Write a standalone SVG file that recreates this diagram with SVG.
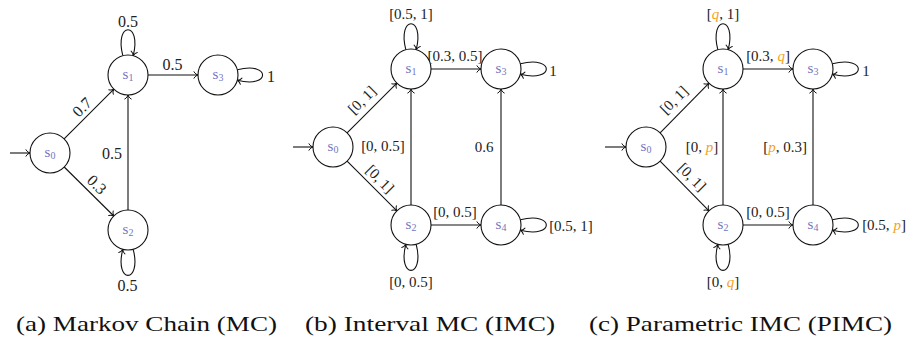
<svg xmlns="http://www.w3.org/2000/svg" width="907" height="341" viewBox="0 0 907 341">
<style>
.node circle{fill:#fff;stroke:#111;stroke-width:1.1}
.nl{font-family:"Liberation Serif",serif;font-size:15px;fill:#7575c2;text-anchor:middle}
.nl tspan{font-size:10px}
.e{fill:none;stroke:#111;stroke-width:1.1;marker-end:url(#arr)}
.lb{font-family:"Liberation Serif",serif;font-size:15px;fill:#222;text-anchor:middle;dominant-baseline:central}
.la{font-size:16px}
.v{fill:#f5a21d;font-style:italic}
.cap{font-family:"Liberation Serif",serif;font-size:21px;fill:#111}
</style>
<defs>
<marker id="arr" markerUnits="userSpaceOnUse" viewBox="-5 -4 6 8" refX="0" refY="0" markerWidth="6" markerHeight="8" orient="auto" overflow="visible">
<path d="M-4,-3.2 C-3,-1.2 -1,-0.3 0,0 C-1,0.3 -3,1.2 -4,3.2" fill="none" stroke="#111" stroke-width="1" stroke-linecap="round"/>
</marker>
</defs>

<g id="connectors">
<!-- panel a -->
<line class="e" x1="10" y1="153" x2="30" y2="153"/>
<line class="e" x1="64.1" y1="138.9" x2="113.9" y2="89.1"/>
<line class="e" x1="64.2" y1="167" x2="113.8" y2="216"/>
<line class="e" x1="128" y1="210" x2="128" y2="95"/>
<line class="e" x1="148" y1="75" x2="198" y2="75"/>
<path class="e" d="M122.8,55.7 C114,21 142,21 133.2,55.7"/>
<path class="e" d="M237.3,69.8 C271,61 271,89 237.3,80.2"/>
<path class="e" d="M133.2,249.3 C142,284 114,284 122.8,249.3"/>
<!-- panel b -->
<line class="e" x1="293" y1="147" x2="313" y2="147"/>
<line class="e" x1="347.1" y1="132.9" x2="396.9" y2="83.1"/>
<line class="e" x1="347.1" y1="161.1" x2="396.9" y2="210.9"/>
<line class="e" x1="411" y1="205" x2="411" y2="89"/>
<line class="e" x1="501" y1="205" x2="501" y2="89"/>
<line class="e" x1="431" y1="69" x2="481" y2="69"/>
<line class="e" x1="431" y1="225" x2="481" y2="225"/>
<path class="e" d="M405.8,49.7 C397,15 425,15 416.2,49.7"/>
<path class="e" d="M520.3,63.8 C555,55 555,83 520.3,74.2"/>
<path class="e" d="M520.3,219.8 C555,211 555,239 520.3,230.2"/>
<path class="e" d="M416.2,244.3 C425,279 397,279 405.8,244.3"/>
<!-- panel c -->
<line class="e" x1="605" y1="147" x2="626" y2="147"/>
<line class="e" x1="660.1" y1="132.8" x2="709" y2="83.2"/>
<line class="e" x1="660.1" y1="161.2" x2="709" y2="210.8"/>
<line class="e" x1="723" y1="205" x2="723" y2="89"/>
<line class="e" x1="813" y1="205" x2="813" y2="89"/>
<line class="e" x1="743" y1="69" x2="793" y2="69"/>
<line class="e" x1="743" y1="225" x2="793" y2="225"/>
<path class="e" d="M717.8,49.7 C709,15 737,15 728.2,49.7"/>
<path class="e" d="M832.3,63.8 C867,55 867,83 832.3,74.2"/>
<path class="e" d="M832.3,219.8 C867,211 867,239 832.3,230.2"/>
<path class="e" d="M728.2,244.3 C737,279 709,279 717.8,244.3"/>
</g>

<g id="edge-labels">
<!-- a -->
<text class="lb la" x="128" y="21">0.5</text>
<text class="lb la" x="172.5" y="64">0.5</text>
<text class="lb la" x="271" y="76">1</text>
<text class="lb la" x="82" y="107" transform="rotate(-45 82 107)">0.7</text>
<text class="lb la" x="97" y="184.5" transform="rotate(45 97 184.5)">0.3</text>
<text class="lb la" x="112" y="153">0.5</text>
<text class="lb la" x="127.5" y="285.5">0.5</text>
<!-- b -->
<text class="lb" x="411" y="13.5">[0.5, 1]</text>
<text class="lb" x="455" y="56">[0.3, 0.5]</text>
<text class="lb" x="553" y="70.5">1</text>
<text class="lb" x="362" y="100" transform="rotate(-45 362 100)">[0, 1]</text>
<text class="lb" x="383" y="146">[0, 0.5]</text>
<text class="lb" x="484" y="147">0.6</text>
<text class="lb" x="380" y="179" transform="rotate(45 380 179)">[0, 1]</text>
<text class="lb" x="455" y="212">[0, 0.5]</text>
<text class="lb" x="571" y="226">[0.5, 1]</text>
<text class="lb" x="411" y="282">[0, 0.5]</text>
<!-- c -->
<text class="lb" x="723" y="13.5">[<tspan class="v">q</tspan>, 1]</text>
<text class="lb" x="768" y="56">[0.3, <tspan class="v">q</tspan>]</text>
<text class="lb" x="866" y="70.5">1</text>
<text class="lb" x="674" y="100" transform="rotate(-45 674 100)">[0, 1]</text>
<text class="lb" x="702" y="147">[0, <tspan class="v">p</tspan>]</text>
<text class="lb" x="785" y="147">[<tspan class="v">p</tspan>, 0.3]</text>
<text class="lb" x="692" y="177" transform="rotate(45 692 177)">[0, 1]</text>
<text class="lb" x="768" y="212">[0, 0.5]</text>
<text class="lb" x="884" y="225">[0.5, <tspan class="v">p</tspan>]</text>
<text class="lb" x="723" y="282">[0, <tspan class="v">q</tspan>]</text>
</g>

<!-- panel a nodes -->
<g id="a_s0" class="node"><circle cx="50" cy="153" r="20"/><text class="nl" x="50" y="156.5">s<tspan dy="2">0</tspan></text></g>
<g id="a_s1" class="node"><circle cx="128" cy="75" r="20"/><text class="nl" x="128" y="78.5">s<tspan dy="2">1</tspan></text></g>
<g id="a_s2" class="node"><circle cx="128" cy="230" r="20"/><text class="nl" x="128" y="233.5">s<tspan dy="2">2</tspan></text></g>
<g id="a_s3" class="node"><circle cx="218" cy="75" r="20"/><text class="nl" x="218" y="78.5">s<tspan dy="2">3</tspan></text></g>
<!-- panel b nodes -->
<g id="b_s0" class="node"><circle cx="333" cy="147" r="20"/><text class="nl" x="333" y="150.5">s<tspan dy="2">0</tspan></text></g>
<g id="b_s1" class="node"><circle cx="411" cy="69" r="20"/><text class="nl" x="411" y="72.5">s<tspan dy="2">1</tspan></text></g>
<g id="b_s2" class="node"><circle cx="411" cy="225" r="20"/><text class="nl" x="411" y="228.5">s<tspan dy="2">2</tspan></text></g>
<g id="b_s3" class="node"><circle cx="501" cy="69" r="20"/><text class="nl" x="501" y="72.5">s<tspan dy="2">3</tspan></text></g>
<g id="b_s4" class="node"><circle cx="501" cy="225" r="20"/><text class="nl" x="501" y="228.5">s<tspan dy="2">4</tspan></text></g>
<!-- panel c nodes -->
<g id="c_s0" class="node"><circle cx="646" cy="147" r="20"/><text class="nl" x="646" y="150.5">s<tspan dy="2">0</tspan></text></g>
<g id="c_s1" class="node"><circle cx="723" cy="69" r="20"/><text class="nl" x="723" y="72.5">s<tspan dy="2">1</tspan></text></g>
<g id="c_s2" class="node"><circle cx="723" cy="225" r="20"/><text class="nl" x="723" y="228.5">s<tspan dy="2">2</tspan></text></g>
<g id="c_s3" class="node"><circle cx="813" cy="69" r="20"/><text class="nl" x="813" y="72.5">s<tspan dy="2">3</tspan></text></g>
<g id="c_s4" class="node"><circle cx="813" cy="225" r="20"/><text class="nl" x="813" y="228.5">s<tspan dy="2">4</tspan></text></g>

<g id="captions">
<text class="cap" x="16" y="331" textLength="261" lengthAdjust="spacingAndGlyphs">(a) Markov Chain (MC)</text>
<text class="cap" x="305" y="331" textLength="250" lengthAdjust="spacingAndGlyphs">(b) Interval MC (IMC)</text>
<text class="cap" x="589" y="331" textLength="303" lengthAdjust="spacingAndGlyphs">(c) Parametric IMC (PIMC)</text>
</g>
</svg>
